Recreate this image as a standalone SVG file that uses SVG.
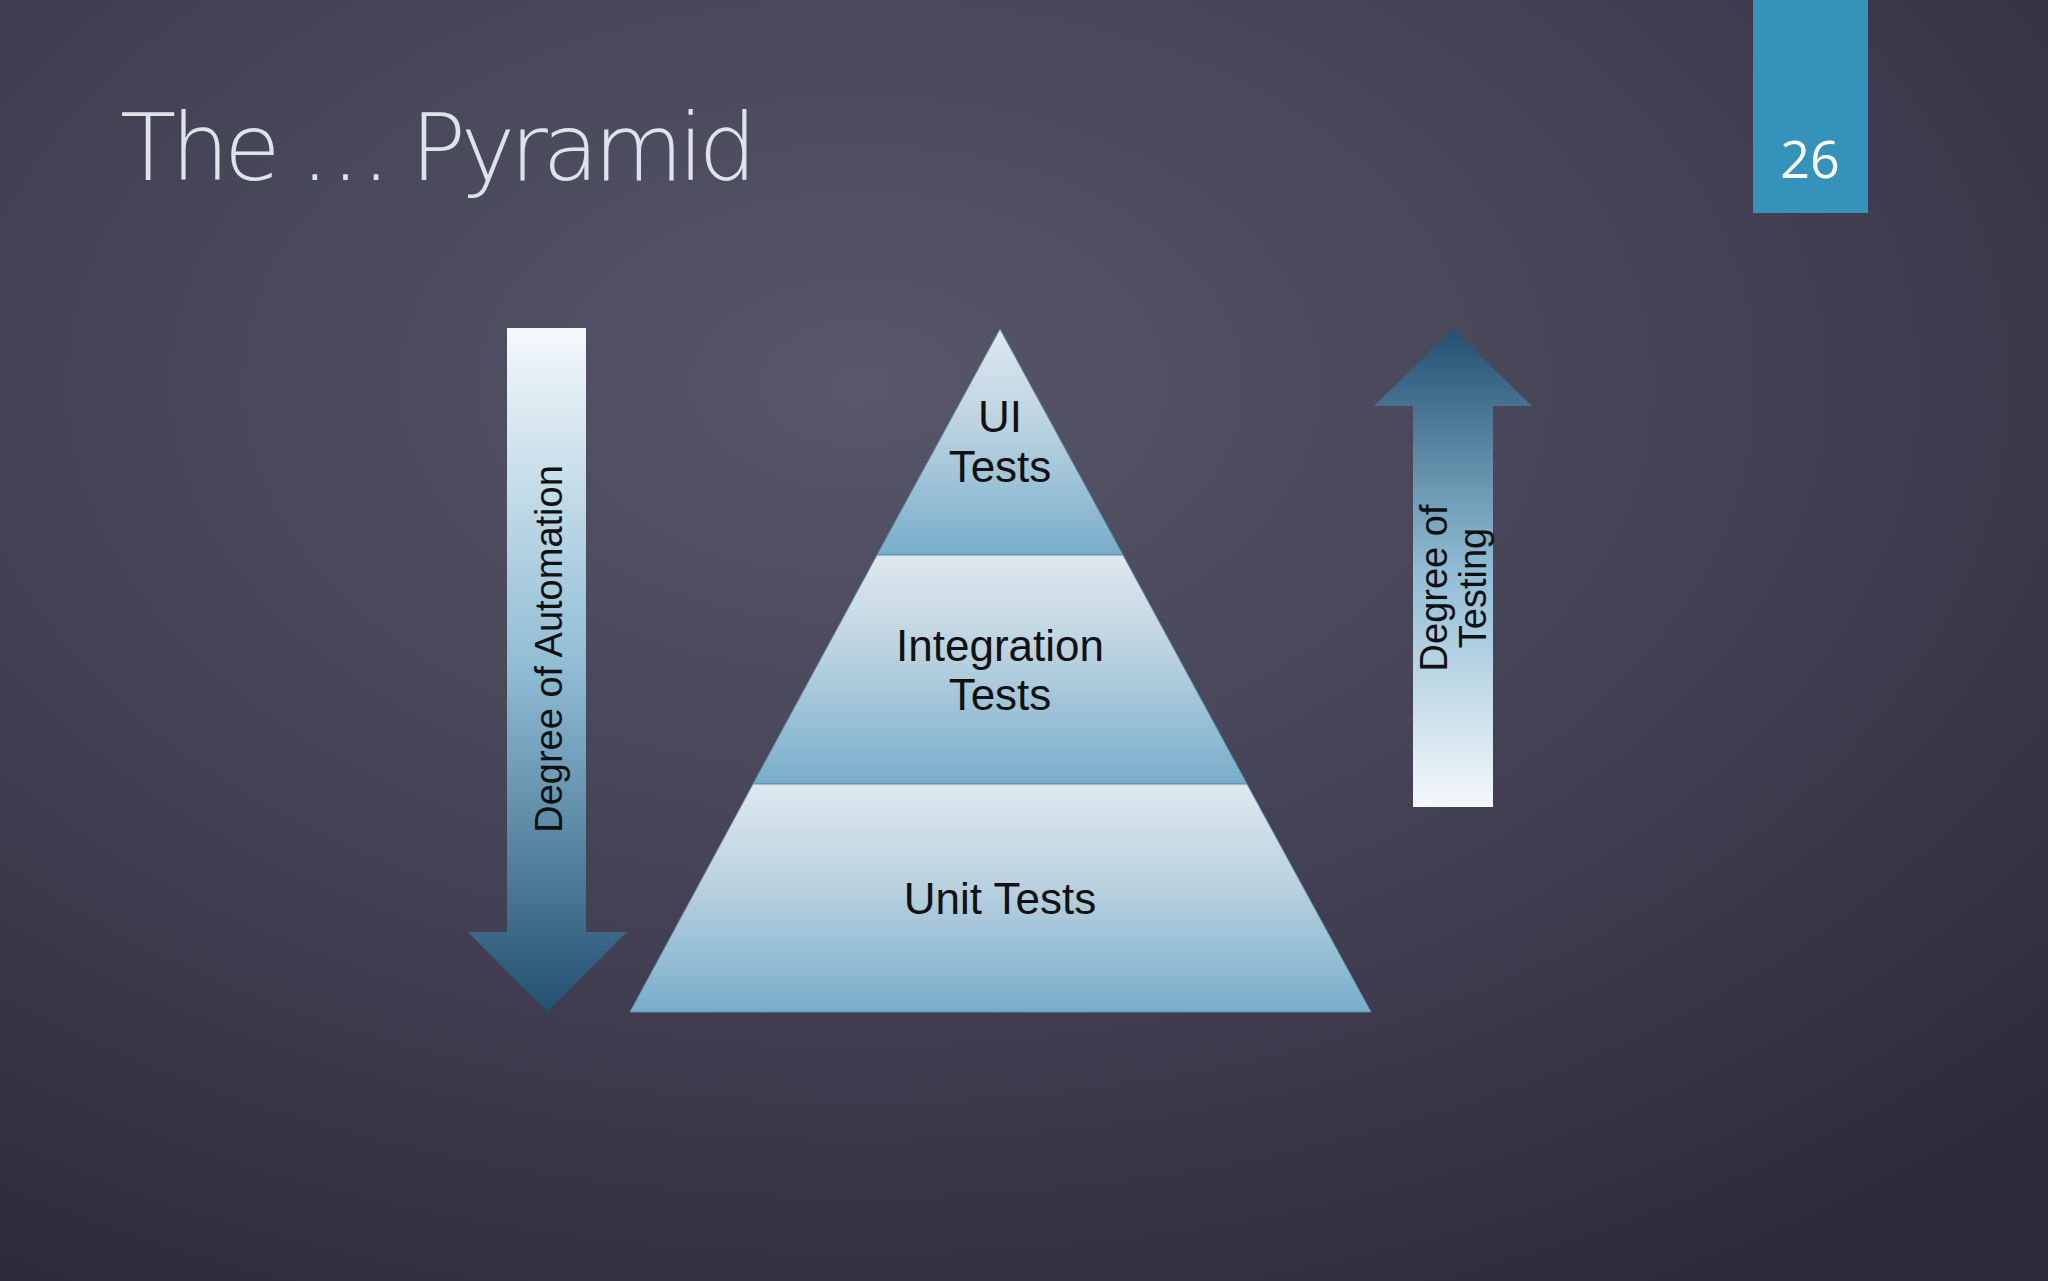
<svg xmlns="http://www.w3.org/2000/svg" width="2048" height="1281" viewBox="0 0 2048 1281">
<defs>
<radialGradient id="bg" cx="0.42" cy="0.3" r="0.8">
<stop offset="0" stop-color="#575769"/><stop offset="0.6" stop-color="#413e51"/><stop offset="1" stop-color="#2f2b3b"/>
</radialGradient>
<linearGradient id="band" x1="0" y1="0" x2="0" y2="1">
<stop offset="0" stop-color="#dfe8ef"/><stop offset="0.45" stop-color="#b9d1df"/><stop offset="1" stop-color="#78adca"/>
</linearGradient>
<linearGradient id="down" x1="0" y1="0" x2="0" y2="1">
<stop offset="0" stop-color="#f4f8fb"/><stop offset="0.5" stop-color="#8fbcd4"/><stop offset="1" stop-color="#23506f"/>
</linearGradient>
<linearGradient id="up" x1="0" y1="1" x2="0" y2="0">
<stop offset="0" stop-color="#f4f8fb"/><stop offset="0.5" stop-color="#8fbcd4"/><stop offset="1" stop-color="#23506f"/>
</linearGradient>
<style>
.lbl{font-family:"Liberation Sans","DejaVu Sans",sans-serif;font-size:44px;fill:#111;text-anchor:middle;dominant-baseline:central}
.arr{font-family:"Liberation Sans","DejaVu Sans",sans-serif;font-size:38px;fill:#111;text-anchor:middle;dominant-baseline:central}
.band{stroke:#5f8da8;stroke-width:1}
</style>
</defs>
<rect width="2048" height="1281" fill="url(#bg)"/>
<text x="120" y="180" font-family="'DejaVu Sans','Liberation Sans',sans-serif" font-weight="200" font-size="92" fill="#dce3ea" textLength="637">The … Pyramid</text>
<g id="pagenum">
<rect x="1753" y="0" width="115" height="213" fill="#3592bb"/>
<text x="1810" y="178" font-family="'Open Sans','Liberation Sans',sans-serif" font-size="52" fill="#fff" text-anchor="middle">26</text>
</g>
<g id="ui">
<polygon class="band" points="1000,329 1123,555 877,555" fill="url(#band)"/>
<text class="lbl" x="1000" y="416">UI</text>
<text class="lbl" x="1000" y="466">Tests</text>
</g>
<g id="integration">
<polygon class="band" points="877,555 1123,555 1247,784 753,784" fill="url(#band)"/>
<text class="lbl" x="1000" y="645">Integration</text>
<text class="lbl" x="1000" y="694">Tests</text>
</g>
<g id="unit">
<polygon class="band" points="753,784 1247,784 1371,1012 630,1012" fill="url(#band)"/>
<text class="lbl" x="1000" y="898">Unit Tests</text>
</g>
<g id="automation">
<polygon points="507,328 586,328 586,932 627,932 547,1012 468,932 507,932" fill="url(#down)"/>
<text class="arr" transform="translate(549,649) rotate(-90)">Degree of Automation</text>
</g>
<g id="testing">
<polygon points="1453,329 1532,406 1493,406 1493,807 1413,807 1413,406 1374,406" fill="url(#up)"/>
<text class="arr" transform="translate(1434,588) rotate(-90)">Degree of</text>
<text class="arr" transform="translate(1473,588) rotate(-90)">Testing</text>
</g>
<g id="connectors"></g>
</svg>
